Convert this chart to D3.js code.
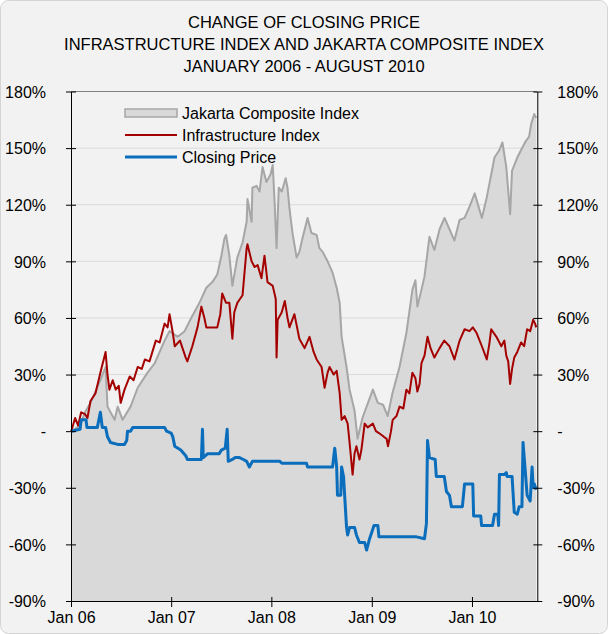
<!DOCTYPE html>
<html>
<head>
<meta charset="utf-8">
<script src="https://cdn.jsdelivr.net/npm/d3@7"></script>
<style>
  body { margin: 0; background: #fff; }
  svg { display: block; font-family: Arial, "Liberation Sans", sans-serif; }
</style>
</head>
<body>
<div id="chart"></div>
<script>
// change of closing price vs infrastructure index vs JCI

const titleLines = [
  'CHANGE OF CLOSING PRICE',
  'INFRASTRUCTURE INDEX AND JAKARTA COMPOSITE INDEX',
  'JANUARY 2006 - AUGUST 2010'
]

const yTicks = [-90, -60, -30, 0, 30, 60, 90, 120, 150, 180]
const xTicks = ['2006-01-01', '2007-01-01', '2008-01-01', '2009-01-01', '2010-01-01']

const seriesNames = ['Jakarta Composite Index', 'Infrastructure Index', 'Closing Price']

// jakarta composite index, % change from Jan 2006
const jci = [
  ['2006-01-02', 0], ['2006-02-03', 3], ['2006-02-21', 10], ['2006-03-13', 15],
  ['2006-04-18', 27], ['2006-05-07', 34], ['2006-05-14', 13], ['2006-06-09', 6],
  ['2006-06-20', 13], ['2006-07-08', 6], ['2006-08-06', 13], ['2006-09-01', 23],
  ['2006-10-07', 31], ['2006-11-02', 36], ['2006-12-08', 48], ['2006-12-26', 53],
  ['2007-01-25', 50], ['2007-02-19', 53], ['2007-03-15', 60], ['2007-04-14', 68],
  ['2007-05-09', 76], ['2007-05-31', 79], ['2007-06-18', 83], ['2007-07-03', 93],
  ['2007-07-14', 102], ['2007-07-20', 104], ['2007-08-01', 93], ['2007-08-12', 77],
  ['2007-08-30', 92], ['2007-09-18', 100], ['2007-10-03', 111], ['2007-10-06', 123],
  ['2007-10-21', 111], ['2007-10-24', 129], ['2007-11-08', 130], ['2007-11-19', 127],
  ['2007-11-30', 140], ['2007-12-14', 132], ['2007-12-29', 136], ['2008-01-06', 141],
  ['2008-01-13', 121], ['2008-01-20', 97], ['2008-01-28', 129], ['2008-02-08', 127],
  ['2008-02-22', 134], ['2008-02-29', 129], ['2008-03-07', 118], ['2008-03-18', 105],
  ['2008-04-02', 92], ['2008-04-12', 95], ['2008-04-23', 102], ['2008-05-12', 113],
  ['2008-05-26', 105], ['2008-06-14', 104], ['2008-06-24', 97], ['2008-07-06', 95],
  ['2008-07-24', 90], ['2008-08-11', 84], ['2008-08-26', 76], ['2008-09-06', 68],
  ['2008-09-13', 50], ['2008-10-01', 34], ['2008-10-12', 22], ['2008-10-30', 11],
  ['2008-11-10', -4], ['2008-11-28', 7], ['2008-12-13', 13], ['2009-01-05', 22],
  ['2009-01-23', 15], ['2009-02-11', 14], ['2009-02-28', 8], ['2009-03-17', 20],
  ['2009-04-12', 34], ['2009-05-07', 52], ['2009-05-29', 75], ['2009-06-09', 80],
  ['2009-06-16', 66], ['2009-07-01', 75], ['2009-07-12', 82], ['2009-07-30', 103],
  ['2009-08-17', 96], ['2009-09-05', 107], ['2009-09-23', 113], ['2009-10-11', 107],
  ['2009-10-29', 101], ['2009-11-17', 112], ['2009-12-05', 113], ['2009-12-23', 119],
  ['2010-01-11', 126], ['2010-02-06', 113], ['2010-02-24', 124], ['2010-03-24', 145],
  ['2010-04-11', 149], ['2010-04-22', 153], ['2010-05-06', 140], ['2010-05-20', 115],
  ['2010-05-27', 138], ['2010-06-15', 145], ['2010-06-29', 149], ['2010-07-17', 154],
  ['2010-07-28', 156], ['2010-08-05', 163], ['2010-08-16', 168], ['2010-08-23', 166]
]

// infrastructure index
const infra = [
  ['2006-01-02', 0], ['2006-01-16', 7], ['2006-01-27', 3], ['2006-02-07', 10],
  ['2006-02-21', 9], ['2006-03-02', 7], ['2006-03-13', 16], ['2006-03-31', 20],
  ['2006-04-18', 31], ['2006-05-07', 42], ['2006-05-14', 30], ['2006-05-21', 22],
  ['2006-06-02', 27], ['2006-06-13', 22], ['2006-06-24', 24], ['2006-07-01', 15],
  ['2006-07-15', 22], ['2006-08-03', 29], ['2006-08-17', 27], ['2006-09-01', 34],
  ['2006-09-16', 33], ['2006-09-27', 38], ['2006-10-14', 37], ['2006-11-06', 48],
  ['2006-11-20', 47], ['2006-12-08', 57], ['2006-12-19', 55], ['2006-12-26', 62],
  ['2007-01-07', 52], ['2007-01-14', 45], ['2007-02-02', 48], ['2007-02-23', 39],
  ['2007-03-01', 37], ['2007-03-19', 45], ['2007-04-07', 55], ['2007-04-21', 66],
  ['2007-05-02', 60], ['2007-05-09', 55], ['2007-06-01', 55], ['2007-06-18', 55],
  ['2007-06-29', 62], ['2007-07-06', 73], ['2007-07-20', 68], ['2007-08-01', 68],
  ['2007-08-12', 49], ['2007-08-19', 63], ['2007-08-30', 68], ['2007-09-18', 72],
  ['2007-10-03', 97], ['2007-10-06', 99], ['2007-10-21', 90], ['2007-11-01', 87],
  ['2007-11-12', 88], ['2007-11-26', 81], ['2007-12-07', 93], ['2007-12-18', 79],
  ['2008-01-06', 77], ['2008-01-17', 70], ['2008-01-20', 39], ['2008-01-24', 59],
  ['2008-02-08', 63], ['2008-02-19', 69], ['2008-02-29', 60], ['2008-03-07', 55],
  ['2008-03-25', 62], ['2008-04-12', 49], ['2008-05-01', 44], ['2008-05-19', 50],
  ['2008-06-03', 42], ['2008-06-14', 38], ['2008-07-02', 34], ['2008-07-13', 23],
  ['2008-07-24', 31], ['2008-07-31', 34], ['2008-08-15', 30], ['2008-08-26', 32],
  ['2008-09-06', 20], ['2008-09-13', 6], ['2008-09-24', 8], ['2008-10-05', 4],
  ['2008-10-12', -6], ['2008-10-23', -23], ['2008-10-30', -12], ['2008-11-06', -8],
  ['2008-11-17', -15], ['2008-11-24', -10], ['2008-12-06', 4], ['2008-12-17', 2],
  ['2009-01-05', 4], ['2009-01-16', 0], ['2009-01-27', -1], ['2009-02-14', -3],
  ['2009-02-24', -4], ['2009-03-01', -8], ['2009-03-12', 0], ['2009-03-18', 6],
  ['2009-04-01', 8], ['2009-04-12', 13], ['2009-04-26', 12], ['2009-05-07', 22],
  ['2009-05-18', 20], ['2009-05-29', 31], ['2009-06-09', 28], ['2009-06-16', 21],
  ['2009-06-24', 25], ['2009-07-01', 36], ['2009-07-12', 40], ['2009-07-23', 50],
  ['2009-08-03', 44], ['2009-08-17', 39], ['2009-09-05', 44], ['2009-09-22', 48],
  ['2009-10-11', 45], ['2009-10-29', 38], ['2009-11-17', 48], ['2009-12-05', 54],
  ['2009-12-23', 53], ['2010-01-04', 55], ['2010-01-18', 52], ['2010-02-06', 45],
  ['2010-02-24', 38], ['2010-03-05', 46], ['2010-03-12', 54], ['2010-03-31', 50],
  ['2010-04-18', 45], ['2010-04-29', 48], ['2010-05-06', 40], ['2010-05-13', 37],
  ['2010-05-20', 25], ['2010-05-27', 33], ['2010-06-04', 39], ['2010-06-15', 42],
  ['2010-06-29', 47], ['2010-07-10', 45], ['2010-07-21', 54], ['2010-08-01', 53],
  ['2010-08-12', 59], ['2010-08-19', 57], ['2010-08-23', 55]
]

// closing price of the stock
const price = [
  ['2006-01-02', 0], ['2006-02-03', 1], ['2006-02-07', 6], ['2006-02-25', 6],
  ['2006-02-28', 2], ['2006-04-07', 2], ['2006-04-18', 10], ['2006-04-25', 2],
  ['2006-05-07', 2], ['2006-05-14', -3], ['2006-05-25', -6], ['2006-06-20', -7],
  ['2006-07-15', -7], ['2006-07-23', -5], ['2006-07-26', 0], ['2006-08-06', 0],
  ['2006-08-14', 2], ['2006-12-08', 2], ['2006-12-15', 0], ['2007-01-01', -1],
  ['2007-01-07', -3], ['2007-01-14', -8], ['2007-02-05', -10], ['2007-02-23', -13],
  ['2007-03-01', -15], ['2007-04-21', -15], ['2007-04-25', 1], ['2007-04-28', -14],
  ['2007-05-06', -13], ['2007-05-13', -12], ['2007-06-25', -12], ['2007-07-03', -10],
  ['2007-07-17', -9], ['2007-07-24', 1], ['2007-07-28', -16], ['2007-08-12', -15],
  ['2007-08-22', -14], ['2007-09-07', -14], ['2007-09-21', -15], ['2007-10-03', -16],
  ['2007-10-13', -19], ['2007-10-24', -16], ['2008-02-01', -16], ['2008-02-08', -17],
  ['2008-05-08', -17], ['2008-05-12', -19], ['2008-08-11', -19], ['2008-08-19', -9],
  ['2008-08-26', -19], ['2008-08-29', -34], ['2008-09-10', -34], ['2008-09-13', -19],
  ['2008-09-20', -24], ['2008-10-01', -51], ['2008-10-05', -55], ['2008-10-12', -51],
  ['2008-10-30', -51], ['2008-11-06', -55], ['2008-11-17', -59], ['2008-12-06', -59],
  ['2008-12-13', -63], ['2008-12-24', -57], ['2009-01-09', -50], ['2009-01-23', -50],
  ['2009-01-27', -56], ['2009-06-13', -56], ['2009-07-12', -57], ['2009-07-19', -49],
  ['2009-07-23', -5], ['2009-07-30', -14], ['2009-08-20', -15], ['2009-08-24', -24],
  ['2009-09-22', -24], ['2009-09-30', -32], ['2009-10-11', -34], ['2009-10-18', -40],
  ['2009-11-27', -40], ['2009-12-05', -28], ['2010-01-04', -28], ['2010-01-07', -45],
  ['2010-02-02', -45], ['2010-02-05', -50], ['2010-03-17', -50], ['2010-03-24', -44],
  ['2010-04-05', -44], ['2010-04-08', -50], ['2010-04-11', -23], ['2010-04-29', -23],
  ['2010-05-06', -22], ['2010-05-09', -24], ['2010-05-27', -24], ['2010-06-04', -43],
  ['2010-06-15', -44], ['2010-06-22', -40], ['2010-07-02', -40], ['2010-07-06', -6],
  ['2010-07-13', -19], ['2010-07-21', -34], ['2010-08-01', -37], ['2010-08-08', -19],
  ['2010-08-12', -30], ['2010-08-16', -28], ['2010-08-23', -31]
]

const width = 608
const height = 634
const margin = { top: 91.5, right: 71, bottom: 33, left: 71 }

const parse = d3.timeParse('%Y-%m-%d')
const toPts = arr => arr.map(d => ({ date: parse(d[0]), value: d[1] }))

const svg = d3.select('#chart').append('svg')
  .attr('width', width).attr('height', height)

svg.append('rect')
  .attr('x', 0.5).attr('y', 0.5)
  .attr('width', width - 1).attr('height', height - 1)
  .attr('rx', 8)
  .attr('fill', '#f2f2f2')
  .attr('stroke', '#d4d4d4')

const x = d3.scaleTime()
  .domain([parse('2006-01-01'), parse('2010-08-27')])
  .range([margin.left, width - margin.right + 0.3])
const y = d3.scaleLinear()
  .domain([-90, 180])
  .range([height - margin.bottom, margin.top])

// title
svg.append('g').selectAll('text')
  .data(titleLines)
  .join('text')
  .attr('x', width / 2)
  .attr('y', (d, i) => 28 + i * 22)
  .attr('text-anchor', 'middle')
  .attr('font-size', 16.5)
  .attr('fill', '#000')
  .text(d => d)

// gridlines
svg.append('g').selectAll('line')
  .data(yTicks.filter(v => v > -90 && v < 180))
  .join('line')
  .attr('x1', x.range()[0]).attr('x2', x.range()[1])
  .attr('y1', d => y(d)).attr('y2', d => y(d))
  .attr('stroke', '#dadada')
  .attr('stroke-width', 1)

// jci area + line
const jciPts = toPts(jci)
svg.append('path')
  .datum(jciPts)
  .attr('fill', '#d9d9d9')
  .attr('d', d3.area().x(d => x(d.date)).y0(y(-90)).y1(d => y(d.value)))
svg.append('path')
  .datum(jciPts)
  .attr('fill', 'none')
  .attr('stroke', '#a6a6a6')
  .attr('stroke-width', 2)
  .attr('stroke-linejoin', 'round')
  .attr('d', d3.line().x(d => x(d.date)).y(d => y(d.value)))

// top border
svg.append('line')
  .attr('x1', x.range()[0]).attr('x2', x.range()[1])
  .attr('y1', y(180)).attr('y2', y(180))
  .attr('stroke', '#7f7f7f')

const line = d3.line().x(d => x(d.date)).y(d => y(d.value))

svg.append('path')
  .datum(toPts(infra))
  .attr('fill', 'none')
  .attr('stroke', '#a50000')
  .attr('stroke-width', 2)
  .attr('stroke-linejoin', 'round')
  .attr('d', line)

svg.append('path')
  .datum(toPts(price))
  .attr('fill', 'none')
  .attr('stroke', '#0a6ebd')
  .attr('stroke-width', 3)
  .attr('stroke-linejoin', 'round')
  .attr('d', line)

// axes
const fmtPct = v => (v === 0 ? '-' : v + '%')

const crossTicks = g => {
  g.select('.domain').attr('stroke', '#000')
  g.selectAll('.tick line').attr('stroke', '#000')
  g.selectAll('.tick text').attr('fill', '#000').attr('font-size', 16)
    .attr('font-family', 'Arial, "Liberation Sans", sans-serif')
}

const yl = svg.append('g')
  .attr('transform', 'translate(' + margin.left + ',0)')
  .call(d3.axisLeft(y).tickValues(yTicks).tickFormat(fmtPct).tickSize(5).tickPadding(20).tickSizeOuter(0))
yl.call(crossTicks)
yl.selectAll('.tick line').attr('x1', 5).attr('x2', -5)
yl.selectAll('.tick text').attr('dy', '0.36em')

const yr = svg.append('g')
  .attr('transform', 'translate(' + x.range()[1] + ',0)')
  .call(d3.axisRight(y).tickValues(yTicks).tickFormat(fmtPct).tickSize(5).tickPadding(15).tickSizeOuter(0))
yr.call(crossTicks)
yr.selectAll('.tick line').attr('x1', -4).attr('x2', 5)
yr.selectAll('.tick text').attr('dy', '0.36em')

const xa = svg.append('g')
  .attr('transform', 'translate(0,' + y(-90) + ')')
  .call(d3.axisBottom(x).tickValues(xTicks.map(parse)).tickFormat(d3.timeFormat('Jan %y')).tickSize(6).tickPadding(5).tickSizeOuter(0))
xa.call(crossTicks)
xa.selectAll('.tick line').attr('y1', -4).attr('y2', 6)

// legend
const lg = svg.append('g').attr('transform', 'translate(125,0)')
lg.append('rect')
  .attr('x', 0).attr('y', 109)
  .attr('width', 52).attr('height', 8)
  .attr('fill', '#d9d9d9')
  .attr('stroke', '#a6a6a6')
  .attr('stroke-width', 1.5)
lg.append('line')
  .attr('x1', 0).attr('x2', 52).attr('y1', 135).attr('y2', 135)
  .attr('stroke', '#a50000').attr('stroke-width', 2)
lg.append('line')
  .attr('x1', 0).attr('x2', 52).attr('y1', 157).attr('y2', 157)
  .attr('stroke', '#0a6ebd').attr('stroke-width', 3)
lg.selectAll('text')
  .data(seriesNames)
  .join('text')
  .attr('x', 57)
  .attr('y', (d, i) => 119 + i * 22)
  .attr('font-size', 16)
  .attr('fill', '#000')
  .text(d => d)
</script>
</body>
</html>
